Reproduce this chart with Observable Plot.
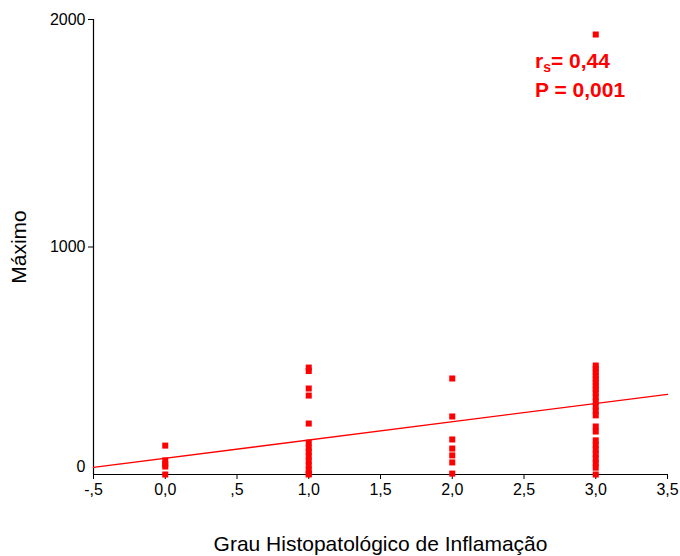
<!DOCTYPE html>
<html>
<head>
<meta charset="utf-8">
<script src="https://cdn.jsdelivr.net/npm/d3@7"></script>
<script src="https://cdn.jsdelivr.net/npm/@observablehq/plot@0.6"></script>
<style>
  body { margin: 0; background: #fff; }
  #chart { width: 680px; height: 556px; }
</style>
</head>
<body>
<div id="chart"></div>
<script>
// Inflammation grade categories and Máximo values per grade
const grade0 = [127, 62, 45, 35, 0];
const grade1 = [470, 455, 378, 347, 224, 140, 118, 100, 80, 60, 40, 20, 5, 0];
const grade2 = [422, 255, 154, 114, 84, 53, 4];
const grade3 = [1934, 479, 465, 450, 435, 420, 405, 390, 375, 360, 340, 320, 300, 280, 260, 211, 189, 150, 130, 110, 90, 70, 50, 30, 0];
const grades = [0, 1, 2, 3];
const seriesByGrade = [grade0, grade1, grade2, grade3];

// fitted line endpoints
const fitX = [-0.5, 3.5];
const fitY = [31, 352];

// tick labels
const xTicks = [-0.5, 0, 0.5, 1, 1.5, 2, 2.5, 3, 3.5];
const xTickLabels = ["-,5", "0,0", ",5", "1,0", "1,5", "2,0", "2,5", "3,0", "3,5"];
const yTicks = [1000, 2000];
const yZero = [0];

const annotX = 2.58;
const annotY1 = 1785;
const annotY2 = 1655;

const points = [];
grades.forEach((g, i) => seriesByGrade[i].forEach(v => points.push({x: g, y: v})));
const fit = fitX.map((x, i) => ({x, y: fitY[i]}));

const red = "#ff0000";
const font = "'Liberation Sans', Arial, sans-serif";

const plot = Plot.plot({
  width: 680,
  height: 556,
  marginLeft: 93,
  marginRight: 13,
  marginTop: 19,
  marginBottom: 82,
  style: {fontFamily: font, fontSize: "16px", color: "#000", background: "#fff"},
  x: {domain: [-0.5, 3.5]},
  y: {domain: [0, 2000]},
  marks: [
    Plot.axisX({
      ticks: xTicks,
      tickFormat: d => xTickLabels[xTicks.indexOf(d)],
      tickSize: 5,
      tickPadding: 4,
      fontSize: 16,
      label: "Grau Histopatológico de Inflamação",
      labelAnchor: "center",
      labelArrow: "none",
      labelOffset: 76,
      stroke: "#000"
    }),
    Plot.axisY({
      ticks: yTicks,
      tickFormat: d => String(d),
      tickSize: 5,
      tickPadding: 3,
      fontSize: 16,
      label: "Máximo",
      labelAnchor: "center",
      labelArrow: "none",
      labelOffset: 82,
      stroke: "#000"
    }),
    Plot.axisY({
      ticks: yZero,
      tickFormat: d => String(d),
      tickSize: 0,
      tickPadding: 8,
      fontSize: 16,
      dy: -8,
      label: null
    }),
    Plot.ruleY([0], {stroke: "#000", strokeWidth: 1.2}),
    Plot.ruleX([-0.5], {stroke: "#000", strokeWidth: 1.2}),
    Plot.line(fit, {x: "x", y: "y", stroke: red, strokeWidth: 1.3}),
    Plot.dot(points, {x: "x", y: "y", symbol: "square", r: 3.4, fill: red, stroke: "none"})
  ]
});

d3.select(plot).selectAll("[aria-label='x-axis label'] text, [aria-label='y-axis label'] text")
  .style("font-size", "21px");

const xs = plot.scale("x"), ys = plot.scale("y");
const svg = d3.select(plot);
const g = svg.append("g")
  .attr("fill", red)
  .attr("font-family", font)
  .attr("font-weight", "bold")
  .attr("font-size", 21)
  .attr("text-anchor", "start");
const t1 = g.append("text").attr("x", xs.apply(annotX)).attr("y", ys.apply(annotY1));
t1.append("tspan").text("r");
t1.append("tspan").attr("font-size", 14).attr("dy", 4).text("s");
t1.append("tspan").attr("dy", -4).text("= 0,44");
g.append("text").attr("x", xs.apply(annotX)).attr("y", ys.apply(annotY2)).text("P = 0,001");

document.getElementById("chart").appendChild(plot);
</script>
</body>
</html>
